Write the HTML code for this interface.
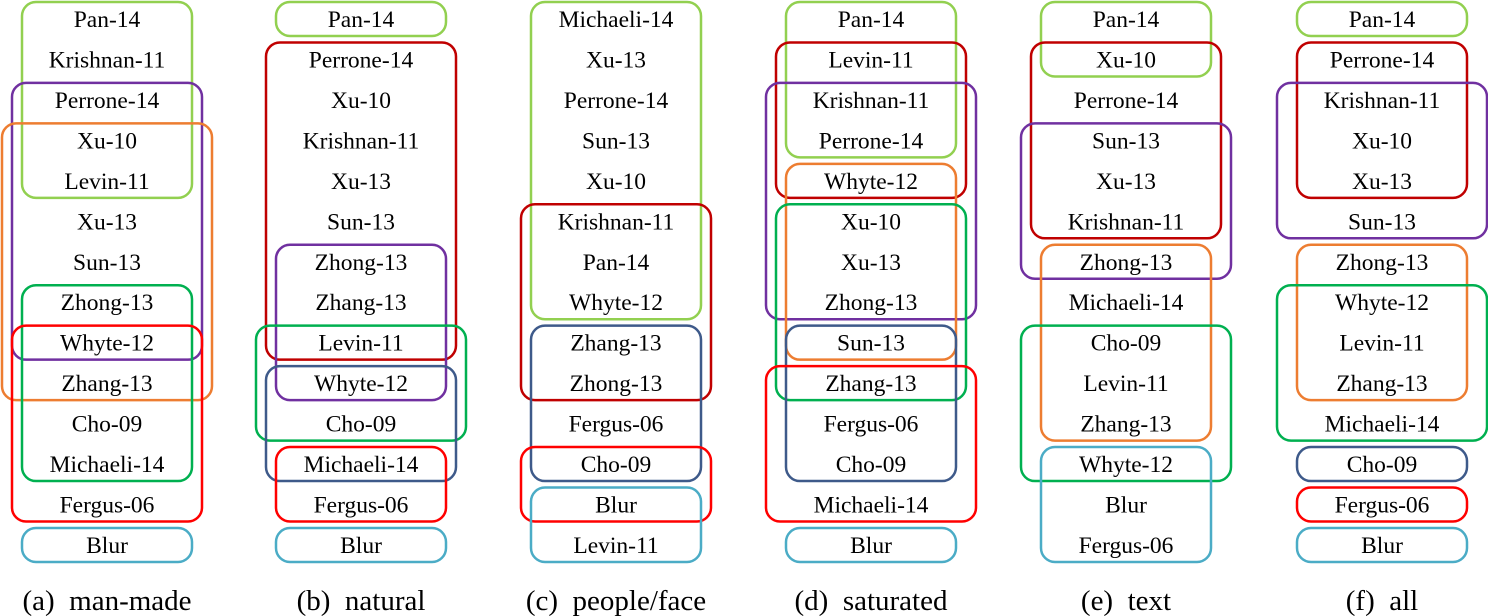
<!DOCTYPE html>
<html><head><meta charset="utf-8"><style>
html,body{margin:0;padding:0;background:#fff;}
svg{display:block;}
text{font-family:"Liberation Serif",serif;fill:#000;}
</style></head><body>
<svg id="chart" width="1488" height="616" viewBox="0 0 1488 616" xmlns="http://www.w3.org/2000/svg"></svg>
<script>
const panelCaptions = ["(a)  man-made","(b)  natural","(c)  people/face","(d)  saturated","(e)  text","(f)  all"];
const panelCenters = [107,361,616,871,1126,1382];
const labelsA = ["Pan-14","Krishnan-11","Perrone-14","Xu-10","Levin-11","Xu-13","Sun-13","Zhong-13","Whyte-12","Zhang-13","Cho-09","Michaeli-14","Fergus-06","Blur"];
const labelsB = ["Pan-14","Perrone-14","Xu-10","Krishnan-11","Xu-13","Sun-13","Zhong-13","Zhang-13","Levin-11","Whyte-12","Cho-09","Michaeli-14","Fergus-06","Blur"];
const labelsC = ["Michaeli-14","Xu-13","Perrone-14","Sun-13","Xu-10","Krishnan-11","Pan-14","Whyte-12","Zhang-13","Zhong-13","Fergus-06","Cho-09","Blur","Levin-11"];
const labelsD = ["Pan-14","Levin-11","Krishnan-11","Perrone-14","Whyte-12","Xu-10","Xu-13","Zhong-13","Sun-13","Zhang-13","Fergus-06","Cho-09","Michaeli-14","Blur"];
const labelsE = ["Pan-14","Xu-10","Perrone-14","Sun-13","Xu-13","Krishnan-11","Zhong-13","Michaeli-14","Cho-09","Levin-11","Zhang-13","Whyte-12","Blur","Fergus-06"];
const labelsF = ["Pan-14","Perrone-14","Krishnan-11","Xu-10","Xu-13","Sun-13","Zhong-13","Whyte-12","Levin-11","Zhang-13","Michaeli-14","Cho-09","Fergus-06","Blur"];
const panelLabels = [labelsA,labelsB,labelsC,labelsD,labelsE,labelsF];
const groupPanels = [0,0,0,0,0,0, 1,1,1,1,1,1,1, 2,2,2,2,2, 3,3,3,3,3,3,3,3, 4,4,4,4,4,4, 5,5,5,5,5,5,5,5];
const groupStart  = [0,2,3,7,8,13, 0,1,6,8,9,11,13, 0,5,8,11,12, 0,1,2,4,5,8,9,13, 0,1,3,6,8,11, 0,1,2,6,7,11,12,13];
const groupEnd    = [4,8,9,11,12,13, 0,8,9,10,11,12,13, 7,9,11,12,13, 3,4,7,8,9,11,12,13, 1,5,6,10,11,13, 0,4,5,9,10,11,12,13];
const groupColor  = ["lg","pu","or","gr","rd","bl", "lg","dr","pu","gr","nv","rd","bl", "lg","dr","nv","rd","bl", "lg","dr","pu","or","gr","nv","rd","bl", "lg","dr","pu","or","gr","bl", "lg","dr","pu","or","gr","nv","rd","bl"];
const groupWidth  = [0,1,2,0,1,0, 0,1,0,2,1,0,0, 0,1,0,1,0, 0,1,2,0,1,0,2,0, 0,1,2,0,2,0, 0,0,2,0,2,0,0,0];
const colors = {lg:"#92d050",pu:"#7030a0",or:"#ed7d31",gr:"#00b050",rd:"#ff0000",dr:"#c00000",nv:"#3e5a8a",bl:"#4bacc6"};
const halfWidths = [85,95,105];
const rowY = i => 19 + i*40.46;
const svg = document.getElementById('chart');
const NS = "http://www.w3.org/2000/svg";
panelLabels.forEach((labs,p)=>{
  labs.forEach((t,i)=>{
    const e=document.createElementNS(NS,'text');
    
    
    e.setAttribute('x',panelCenters[p]);e.setAttribute('y',rowY(i)+8);
    e.setAttribute('text-anchor','middle');e.setAttribute('font-size','23.5');
    e.textContent=t;svg.appendChild(e);
  });
  const c=document.createElementNS(NS,'text');
  
  
  c.setAttribute('x',panelCenters[p]);c.setAttribute('y',610);
  c.setAttribute('text-anchor','middle');c.setAttribute('font-size','29');
  c.style.whiteSpace='pre';
  c.textContent=panelCaptions[p];svg.appendChild(c);
});
groupPanels.forEach((p,g)=>{
  const hw=halfWidths[groupWidth[g]];
  const top=rowY(groupStart[g])-17, bot=rowY(groupEnd[g])+17;
  const r=document.createElementNS(NS,'rect');
  
  
  r.setAttribute('x',panelCenters[p]-hw);r.setAttribute('y',top);
  r.setAttribute('width',hw*2);r.setAttribute('height',bot-top);
  r.setAttribute('rx',14);r.setAttribute('fill','none');
  r.setAttribute('stroke',colors[groupColor[g]]);r.setAttribute('stroke-width','2.5');
  svg.appendChild(r);
});
</script>
</body></html>
